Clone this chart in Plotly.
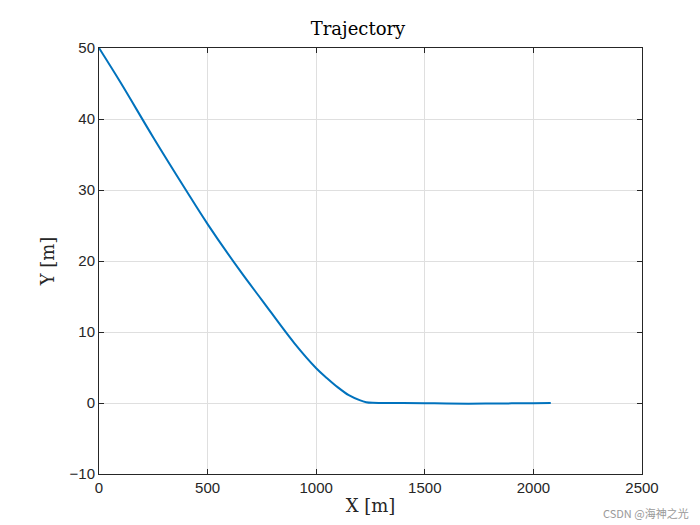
import plotly.graph_objects as go

x = [0, 100, 250, 400, 500, 650, 750, 900, 1000, 1050, 1100, 1150, 1200, 1230, 1260, 1300, 1400, 1500, 1600, 1700, 1800, 1900, 2000, 2080]
y = [50, 45.1, 37.4, 30.0, 25.2, 18.6, 14.5, 8.4, 4.9, 3.5, 2.2, 1.1, 0.4, 0.12, 0.02, 0.0, 0.0, -0.03, -0.08, -0.1, -0.08, -0.05, -0.02, 0.0]

fig = go.Figure(go.Scatter(x=x, y=y, mode="lines", line=dict(color="#0072BD", width=2), line_shape="spline"))

ax = dict(showline=True, linecolor="#262626", linewidth=1, mirror="ticks", ticks="inside", ticklen=5,
          tickcolor="#262626", showgrid=True, gridcolor="#DFDFDF", zeroline=False, automargin=False,
          tickfont=dict(family="Liberation Sans", size=15, color="#262626"))
fig.update_layout(
    width=700, height=525, plot_bgcolor="white", paper_bgcolor="white", showlegend=False,
    margin=dict(l=91, r=66, t=40, b=59, autoexpand=False),
    title=dict(text="Trajectory", x=0.5, xanchor="center", y=0.96, yanchor="middle",
               font=dict(family="DejaVu Serif", size=18, color="black"), automargin=False),
    xaxis=dict(ax, range=[0, 2500], dtick=500,
               title=dict(text="X [m]", font=dict(family="DejaVu Serif", size=18, color="#262626"), standoff=4)),
    yaxis=dict(ax, range=[-10, 50], dtick=10,
               title=dict(text="Y [m]", font=dict(family="DejaVu Serif", size=18, color="#262626"), standoff=10)),
)
fig.add_annotation(text="CSDN @海神之光", xref="paper", yref="paper", x=1.09, y=-0.115, showarrow=False,
                   xanchor="right", font=dict(family="Noto Sans CJK SC", size=11, color="#999999"))
fig.write_html("out.html")
